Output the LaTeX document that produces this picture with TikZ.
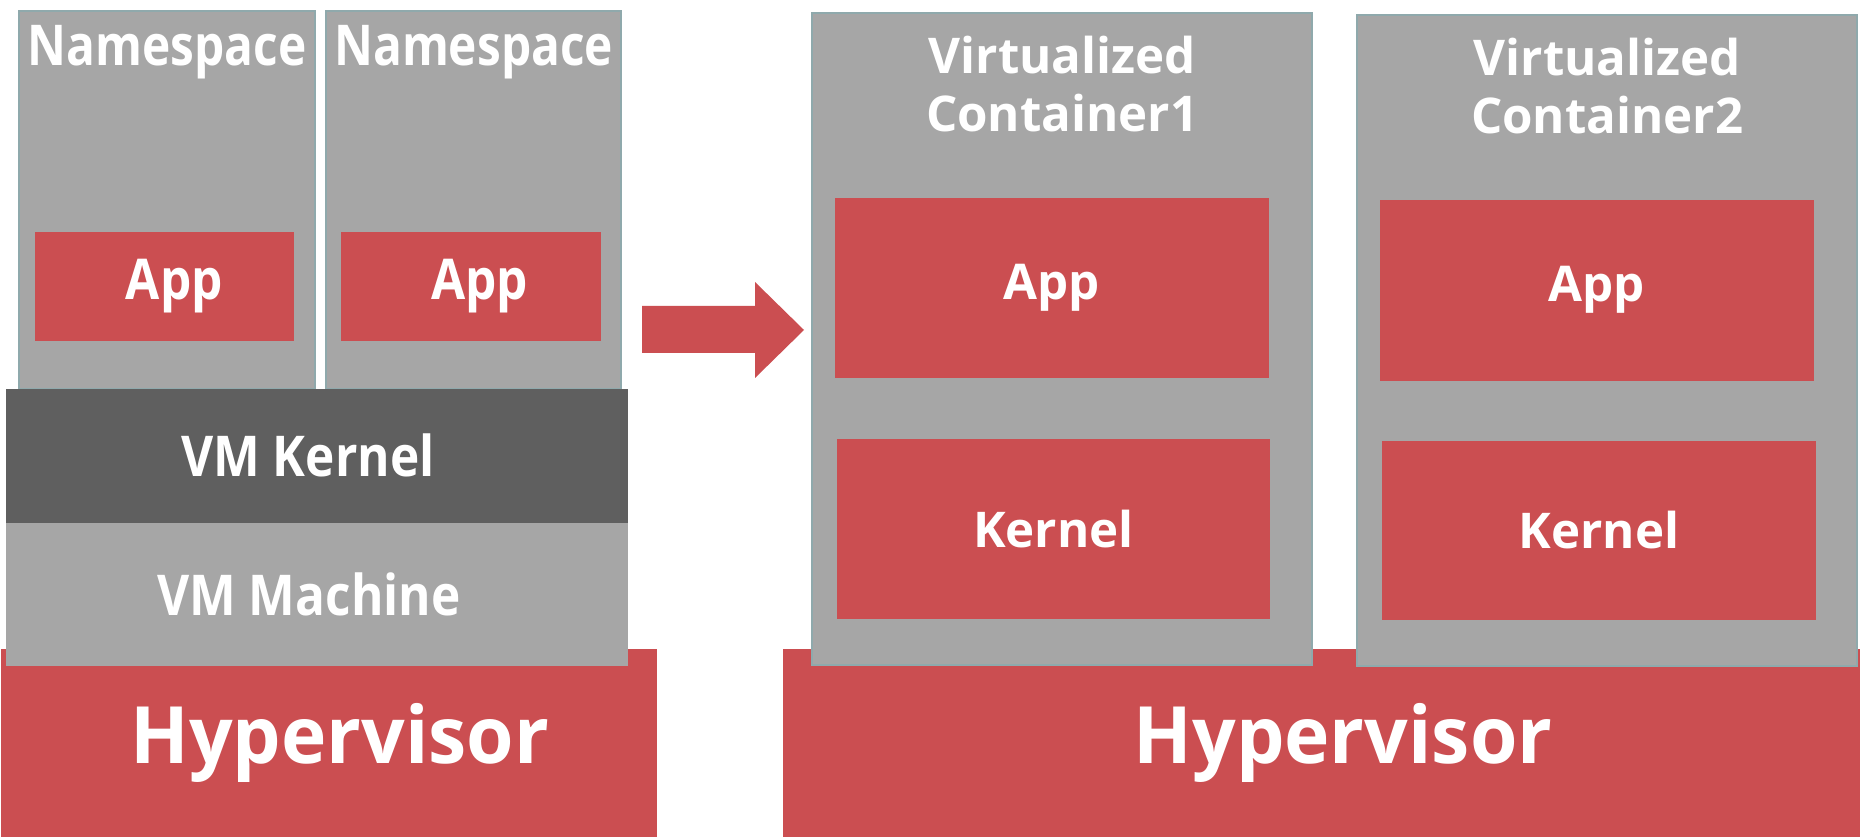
\documentclass[tikz,border=0pt]{standalone}
\usepackage{fontspec}
\setmainfont{Open Sans}
\newfontfamily\narrowfont{Open Sans}[FakeStretch=0.88]
\newfontfamily\nsfont{Open Sans}[FakeStretch=0.85]
\newfontfamily\hvfont{Open Sans}[FakeStretch=0.97]
\definecolor{boxgray}{HTML}{A6A6A6}
\definecolor{kerngray}{HTML}{5F5F5F}
\definecolor{hypred}{HTML}{CB4E51}
\definecolor{edgeteal}{HTML}{8FA9AC}
\tikzset{
  block/.style={rectangle, inner sep=0pt, anchor=north west, text=white},
  grayblock/.style={block, fill=boxgray, draw=edgeteal, line width=0.6pt},
  redblock/.style={block, fill=hypred},
  leftfont/.style={font=\narrowfont\bfseries\fontsize{16}{19}\selectfont, text=white},
  nsfontstyle/.style={font=\nsfont\bfseries\fontsize{16}{19}\selectfont, text=white},
  rightfont/.style={font=\bfseries\fontsize{14}{16.5}\selectfont},
  hypfont/.style={font=\hvfont\bfseries\fontsize{22.5}{26}\selectfont, text=white},
}
\begin{document}
\begin{tikzpicture}[x=0.01cm,y=-0.01cm]
		\useasboundingbox (0,0) rectangle (1860,837);
		
		\node[grayblock, minimum width=2.96cm, minimum height=3.78cm,
		  label={[nsfontstyle, anchor=base, yshift=-0.55cm]north:Namespace}] (ns1) at (18,10) {};
		\node[grayblock, minimum width=2.95cm, minimum height=3.78cm,
		  label={[nsfontstyle, anchor=base, yshift=-0.55cm]north:Namespace}] (ns2) at (325,10) {};
		\node[redblock, minimum width=2.59cm, minimum height=1.09cm,
		  label={[leftfont, xshift=0.1cm]center:App}] (app1) at (34,231) {};
		\node[redblock, minimum width=2.60cm, minimum height=1.09cm,
		  label={[leftfont, xshift=0.09cm]center:App}] (app2) at (340,231) {};
		
		\node[redblock, minimum width=6.56cm, minimum height=1.89cm,
		  label={[hypfont, xshift=0.11cm]center:Hypervisor}] (hyp1) at (0,648) {};
		\node[block, fill=kerngray, minimum width=6.22cm, minimum height=1.34cm,
		  label={[leftfont, xshift=-0.09cm]center:VM Kernel}] (vmk) at (5,388) {};
		\node[block, fill=boxgray, minimum width=6.22cm, minimum height=1.43cm,
		  label={[leftfont, xshift=-0.08cm]center:VM Machine}] (vmm) at (5,522) {};
		
		\fill[hypred] (642,306) -- (755,306) -- (755,282) -- (804,330) -- (755,378) -- (755,353) -- (642,353) -- cycle;
		
		\node[redblock, minimum width=10.78cm, minimum height=1.89cm,
		  label={[hypfont, xshift=0.21cm]center:Hypervisor}] (hyp2) at (782,648) {};
		
		\node[grayblock, minimum width=5.00cm, minimum height=6.52cm,
		  label={[rightfont, text=white, align=center, anchor=north, yshift=-0.12cm]north:Virtualized\\Container1}] (c1) at (811,12) {};
		\node[redblock, rightfont, minimum width=4.34cm, minimum height=1.80cm] (c1app) at (834,197) {App};
		\node[redblock, rightfont, minimum width=4.33cm, minimum height=1.80cm] (c1kern) at (836,438) {Kernel};
		
		\node[grayblock, minimum width=5.00cm, minimum height=6.51cm,
		  label={[rightfont, text=white, align=center, anchor=north, yshift=-0.12cm]north:Virtualized\\Container2}] (c2) at (1356,14) {};
		\node[redblock, rightfont, minimum width=4.34cm, minimum height=1.81cm] (c2app) at (1379,199) {App};
		\node[redblock, rightfont, minimum width=4.34cm, minimum height=1.79cm] (c2kern) at (1381,440) {Kernel};
		
		\end{tikzpicture}
\end{document}
